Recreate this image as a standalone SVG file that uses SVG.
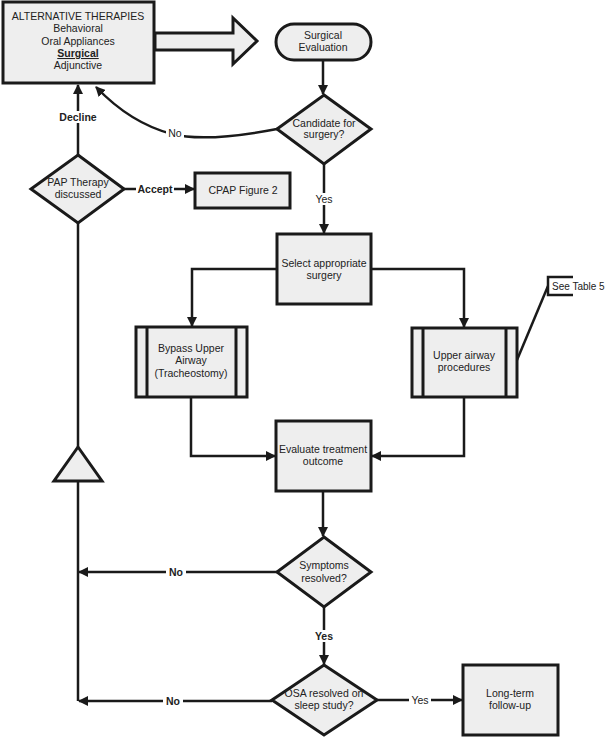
<svg xmlns="http://www.w3.org/2000/svg" width="608" height="737" viewBox="0 0 608 737">
<defs>
<style>
.n{fill:#eeeeee;stroke:#1a1a1a;stroke-width:3}
.c{fill:none;stroke:#1a1a1a;stroke-width:2.5}
.t{font-family:"Liberation Sans",Arial,sans-serif;font-size:10.5px;fill:#222;text-anchor:middle}
.b{font-weight:bold}
.lb{fill:#fff}
</style>
<marker id="ah" markerWidth="10" markerHeight="10" refX="9" refY="5" orient="auto" markerUnits="userSpaceOnUse" viewBox="0 0 10 10">
<path d="M0,0 L10,5 L0,10 z" fill="#1a1a1a"/>
</marker>
</defs>
<rect width="608" height="737" fill="#fff"/>

<g id="connectors">
<path class="c" d="M323,60 V94" marker-end="url(#ah)"/>
<path class="c" d="M277,129 C235,137 195,140 172,134 C145,127 118,110 96,87" marker-end="url(#ah)"/>
<path class="c" d="M78,155 V85" marker-end="url(#ah)"/>
<path class="c" d="M124,189 H194" marker-end="url(#ah)"/>
<path class="c" d="M78,223 V447"/>
<path class="c" d="M78,481 V701"/>
<path class="c" d="M324,164 V233" marker-end="url(#ah)"/>
<path class="c" d="M277,269 H192 V326" marker-end="url(#ah)"/>
<path class="c" d="M371,269 H464 V327" marker-end="url(#ah)"/>
<path class="c" d="M191,397 V456 H275" marker-end="url(#ah)"/>
<path class="c" d="M464,397 V456 H372" marker-end="url(#ah)"/>
<path class="c" d="M323,491 V536" marker-end="url(#ah)"/>
<path class="c" d="M277,572 H79" marker-end="url(#ah)"/>
<path class="c" d="M324,607 V664" marker-end="url(#ah)"/>
<path class="c" d="M377,700 H462" marker-end="url(#ah)"/>
<path class="c" d="M272,701 H79" marker-end="url(#ah)"/>
<path class="c" d="M517,360 L548,286"/>
<path class="c" d="M573,277 H548 V295 H573"/>
<g class="t">
<rect class="lb" x="166" y="127" width="18" height="12"/>
<text x="175" y="137">No</text>
<rect class="lb" x="57" y="111" width="42" height="12"/>
<text class="b" x="78" y="121">Decline</text>
<rect class="lb" x="136" y="183" width="38" height="12"/>
<text class="b" x="155" y="193">Accept</text>
<rect class="lb" x="313" y="193" width="22" height="12"/>
<text x="324" y="203">Yes</text>
<rect class="lb" x="166" y="566" width="20" height="12"/>
<text class="b" x="176" y="576">No</text>
<rect class="lb" x="313" y="630" width="22" height="12"/>
<text class="b" x="324" y="640">Yes</text>
<rect class="lb" x="409" y="694" width="22" height="12"/>
<text x="420" y="704">Yes</text>
<rect class="lb" x="163" y="695" width="20" height="12"/>
<text class="b" x="173" y="705">No</text>
<text x="552" y="290" style="text-anchor:start;font-size:10px">See Table 5</text>
</g>
</g>

<g id="alt-therapies">
<rect class="n" x="3" y="2" width="151" height="81"/>
<text class="t" x="78" y="20">ALTERNATIVE THERAPIES</text>
<text class="t" x="78" y="32">Behavioral</text>
<text class="t" x="78" y="45">Oral Appliances</text>
<text class="t b" x="78" y="57" text-decoration="underline">Surgical</text>
<text class="t" x="78" y="69">Adjunctive</text>
</g>

<g id="big-arrow">
<path class="n" d="M155,33 H233 V18 L257,41 L233,64 V50 H155 z"/>
</g>

<g id="surgical-evaluation">
<rect class="n" x="276" y="24" width="95" height="36" rx="18" ry="18"/>
<text class="t" x="323" y="39">Surgical</text>
<text class="t" x="323" y="51">Evaluation</text>
</g>

<g id="candidate">
<path class="n" d="M324,95 L371,129 L324,164 L277,129 z"/>
<text class="t" x="324" y="127">Candidate for</text>
<text class="t" x="324" y="138">surgery?</text>
</g>

<g id="pap">
<path class="n" d="M78,155 L124,189 L78,223 L31,189 z"/>
<text class="t" x="78" y="186">PAP Therapy</text>
<text class="t" x="78" y="198">discussed</text>
</g>

<g id="cpap">
<rect class="n" x="195" y="173" width="95" height="35"/>
<text class="t" x="243" y="194">CPAP Figure 2</text>
</g>

<g id="select-surgery">
<rect class="n" x="277" y="234" width="94" height="70"/>
<text class="t" x="324" y="267">Select appropriate</text>
<text class="t" x="324" y="279">surgery</text>
</g>

<g id="bypass">
<rect class="n" x="136" y="327" width="111" height="70"/>
<path class="c" style="stroke-width:3" d="M147,327 V397 M236,327 V397"/>
<text class="t" x="191" y="352">Bypass Upper</text>
<text class="t" x="191" y="364">Airway</text>
<text class="t" x="191" y="377">(Tracheostomy)</text>
</g>

<g id="upper-airway">
<rect class="n" x="412" y="328" width="105" height="69"/>
<path class="c" style="stroke-width:3" d="M423,328 V397 M506,328 V397"/>
<text class="t" x="464" y="359">Upper airway</text>
<text class="t" x="464" y="371">procedures</text>
</g>

<g id="evaluate">
<rect class="n" x="276" y="421" width="95" height="70"/>
<text class="t" x="323" y="453">Evaluate treatment</text>
<text class="t" x="323" y="465">outcome</text>
</g>

<g id="merge">
<path class="n" d="M78,447 L102,481 L54,481 z"/>
</g>

<g id="symptoms">
<path class="n" d="M324,537 L371,572 L324,607 L277,572 z"/>
<text class="t" x="324" y="569">Symptoms</text>
<text class="t" x="324" y="582">resolved?</text>
</g>

<g id="osa">
<path class="n" d="M324,665 L377,700 L324,735 L272,700 z"/>
<text class="t" x="324" y="697">OSA resolved on</text>
<text class="t" x="324" y="709">sleep study?</text>
</g>

<g id="long-term">
<rect class="n" x="463" y="665" width="95" height="70"/>
<text class="t" x="510" y="697">Long-term</text>
<text class="t" x="510" y="709">follow-up</text>
</g>
</svg>
